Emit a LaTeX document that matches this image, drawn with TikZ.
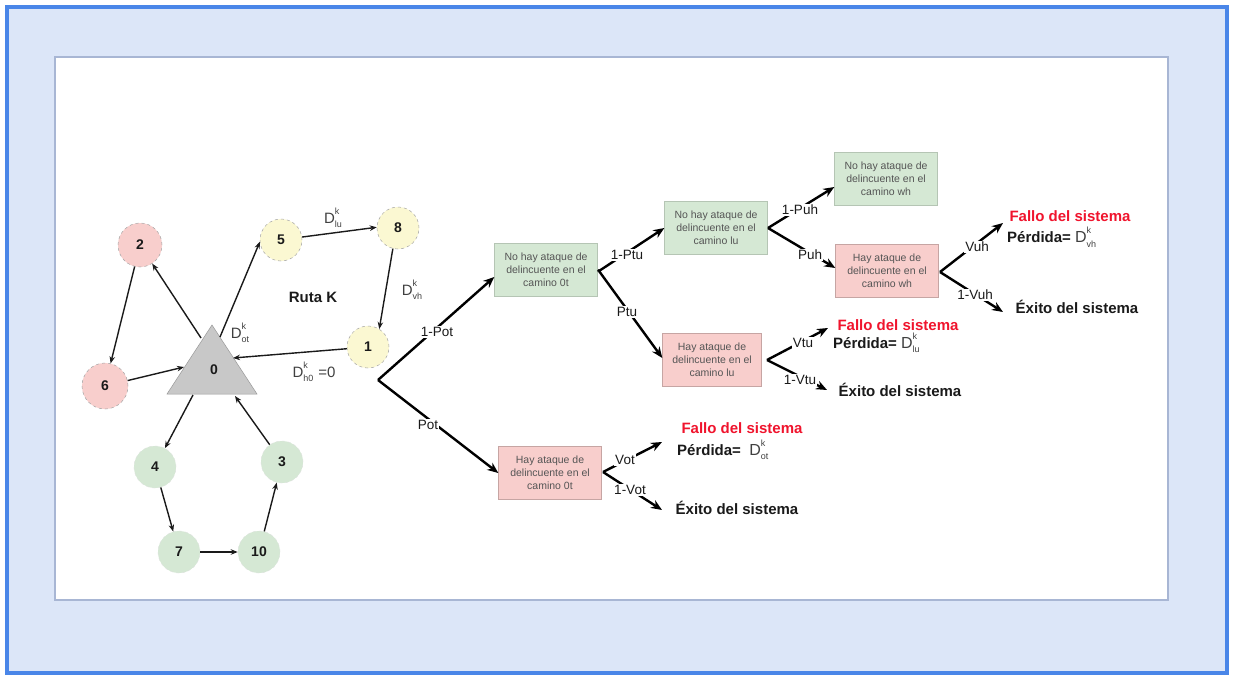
\documentclass[tikz,border=0pt]{standalone}
\usepackage{fontspec}
\setmainfont{Liberation Sans}
\usetikzlibrary{arrows.meta,calc}

\definecolor{frameblue}{HTML}{4A86E8}
\definecolor{panelblue}{HTML}{DCE6F8}
\definecolor{paneledge}{HTML}{A8B6D4}
\definecolor{nodepink}{HTML}{F8CECC}
\definecolor{nodeyellow}{HTML}{FBF8D2}
\definecolor{nodegreen}{HTML}{D5E8D4}
\definecolor{trigray}{HTML}{C8C8C8}
\definecolor{failred}{HTML}{F0142D}
\definecolor{boxtext}{HTML}{555555}
\definecolor{ink}{HTML}{1A1A1A}

% D with a k above and an index below, set side by side
\newcommand{\Dsym}[1]{D\rlap{\raisebox{1.05ex}{\fontsize{9}{9}\selectfont k}}\raisebox{-0.55ex}{\fontsize{9}{9}\selectfont #1}}

\begin{document}
\begin{tikzpicture}[x=1pt,y=-1pt,
  vtx/.style={circle, inner sep=0pt, minimum size=42pt, draw=black!35, dashed, line width=0.5pt,
              font=\fontsize{14}{14}\selectfont\bfseries, text=ink},
  pinkv/.style={vtx, fill=nodepink},
  yellowv/.style={vtx, fill=nodeyellow},
  greenv/.style={vtx, fill=nodegreen, draw=nodegreen!80!black!40},
  garrow/.style={draw=ink, line width=1.4pt, -{Stealth[length=7pt,width=5.5pt]}},
  tarrow/.style={draw=black, line width=2.4pt, -{Stealth[length=11pt,width=9pt]}},
  tline/.style={draw=black, line width=2.4pt},
  evbox/.style={rectangle, inner sep=0pt, minimum width=103pt, minimum height=53pt, align=center,
                font=\fontsize{10.5}{13}\selectfont, text=boxtext},
  okbox/.style={evbox, fill=nodegreen, draw=nodegreen!85!black},
  badbox/.style={evbox, fill=nodepink, draw=nodepink!80!black},
  plabel/.style={fill=white, inner sep=1pt, font=\fontsize{13.5}{13.5}\selectfont, text=ink},
  dlabel/.style={inner sep=0pt, font=\fontsize{15}{15}\selectfont, text=black!75},
  failtxt/.style={inner sep=0pt, font=\fontsize{15}{15}\selectfont\bfseries, text=failred},
  losstxt/.style={inner sep=0pt, anchor=west, font=\fontsize{15}{15}\selectfont\bfseries, text=ink},
  oktxt/.style={inner sep=0pt, font=\fontsize{15}{15}\selectfont\bfseries, text=ink}
]
\useasboundingbox (0,0) rectangle (1234,677);

% window frame and white panel
\fill[white] (0,0) rectangle (1234,677);
\fill[panelblue] (7,7) rectangle (1227,673);
\draw[frameblue, line width=3.5pt] (7,7) rectangle (1227,673);
\fill[white] (55,57) rectangle (1168,600);
\draw[paneledge, line width=1.5pt] (55,57) rectangle (1168,600);

% ---------------- route graph ----------------
\coordinate (tA) at (212,325);
\coordinate (tL) at (167,394);
\coordinate (tR) at (257,394);
\fill[trigray] (tA) -- (tL) -- (tR) -- cycle;
\draw[black!40, line width=0.5pt] (tA) -- (tL) -- (tR) -- cycle;
\node[font=\fontsize{14}{14}\selectfont\bfseries, text=ink] (n0) at (214,370) {0};

% points on the depot triangle where the arcs meet it
\coordinate (t2) at (201,338);
\coordinate (t6) at (184,367);
\coordinate (t5) at (220,337);
\coordinate (t1) at (233,358);
\coordinate (t4) at (193,395);
\coordinate (t3) at (235,396);

\node[pinkv, minimum size=44pt] (n2) at (140,245) {2};
\node[pinkv, minimum size=46pt] (n6) at (105,386) {6};
\node[yellowv] (n5) at (281,240) {5};
\node[yellowv] (n8) at (398,228) {8};
\node[yellowv] (n1) at (368,347) {1};
\node[greenv] (n4) at (155,467) {4};
\node[greenv] (n3) at (282,462) {3};
\node[greenv] (n7) at (179,552) {7};
\node[greenv] (n10) at (259,552) {10};

\draw[garrow] (t2) -- (n2);
\draw[garrow] (n2) -- (n6);
\draw[garrow] (n6) -- (t6);
\draw[garrow] (t5) -- (n5.185);
\draw[garrow] (n5.8) -- (n8.178);
\draw[garrow] (n8.-104) -- (n1.58);
\draw[garrow] (n1) -- (t1);
\draw[garrow] (t4) -- (n4);
\draw[garrow] (n4) -- (n7);
\draw[garrow] (n7) -- (n10);
\draw[garrow] (n10) -- (n3);
\draw[garrow] (n3) -- (t3);

\node[dlabel] (dlu) at (333,218) {\Dsym{lu}};
\node[dlabel] (dvh) at (412,290) {\Dsym{vh}};
\node[dlabel] (dot) at (240,333) {\Dsym{ot}};
\node[dlabel] (dh0) at (314,372) {\Dsym{h0}\,\,=0};
\node[font=\fontsize{15}{15}\selectfont\bfseries, text=ink] (ruta) at (313,297) {Ruta K};

% ---------------- event tree ----------------
\node[okbox]  (A) at (546,270) {No hay ataque de\\delincuente en el\\camino 0t};
\node[badbox] (F) at (550,473) {Hay ataque de\\delincuente en el\\camino 0t};
\node[okbox]  (B) at (716,228) {No hay ataque de\\delincuente en el\\camino lu};
\node[badbox, minimum width=99pt] (C) at (712,360) {Hay ataque de\\delincuente en el\\camino lu};
\node[okbox]  (D) at (886,179) {No hay ataque de\\delincuente en el\\camino wh};
\node[badbox] (E) at (887,271) {Hay ataque de\\delincuente en el\\camino wh};

% branching points
\coordinate (r0) at (378,380);
\coordinate (rA) at (599,271);
\coordinate (rB) at (768,228);
\coordinate (rC) at (767,360);
\coordinate (rE) at (940,272);
\coordinate (rF) at (603,472);

% outcome texts
\node[failtxt] (f1) at (1070,216) {Fallo del sistema};
\node[losstxt] (l1) at (1007,237) {Pérdida= \mdseries\textcolor{black!75}{\fontsize{16}{16}\selectfont\Dsym{vh}}};
\node[oktxt]   (o1) at (1077,307) {Éxito del sistema};

\node[failtxt] (f2) at (898,325) {Fallo del sistema};
\node[losstxt] (l2) at (833,343) {Pérdida= \mdseries\textcolor{black!75}{\fontsize{16}{16}\selectfont\Dsym{lu}}};
\node[oktxt]   (o2) at (900,390) {Éxito del sistema};

\node[failtxt] (f3) at (742,428) {Fallo del sistema};
\node[losstxt] (l3) at (677,450) {Pérdida= \ \mdseries\textcolor{black!75}{\fontsize{16}{16}\selectfont\Dsym{ot}}};
\node[oktxt]   (o3) at (737,508) {Éxito del sistema};

\coordinate (f1in) at (1003,223);
\coordinate (o1in) at (1003,312);
\coordinate (f2in) at (828,328);
\coordinate (o2in) at (827,390);
\coordinate (f3in) at (662,442);
\coordinate (o3in) at (662,510);

% tree branches
\draw[tarrow] (r0) -- ([yshift=-7pt]A.west);
\draw[tarrow] (r0) -- (F.west);
\draw[tline] (A.east) -- (rA);
\draw[tarrow] (rA) -- (B.west);
\draw[tarrow] (rA) -- ([yshift=2pt]C.west);
\draw[tarrow] (rB) -- ([yshift=-8pt]D.west);
\draw[tarrow] (rB) -- ([yshift=3pt]E.west);
\draw[tarrow] (rC) -- (f2in);
\draw[tarrow] (rC) -- (o2in);
\draw[tarrow] (rE) -- (f1in);
\draw[tarrow] (rE) -- (o1in);
\draw[tarrow] (rF) -- (f3in);
\draw[tarrow] (rF) -- (o3in);

% branch probabilities
\node[plabel] at (437,332) {1-Pot};
\node[plabel] at (428,425) {Pot};
\node[plabel] at (627,255) {1-Ptu};
\node[plabel] at (627,312) {Ptu};
\node[plabel] at (800,210) {1-Puh};
\node[plabel] at (810,255) {Puh};
\node[plabel] at (977,247) {Vuh};
\node[plabel] at (975,295) {1-Vuh};
\node[plabel] at (803,343) {Vtu};
\node[plabel] at (800,380) {1-Vtu};
\node[plabel] at (625,460) {Vot};
\node[plabel] at (630,490) {1-Vot};
\end{tikzpicture}
\end{document}
